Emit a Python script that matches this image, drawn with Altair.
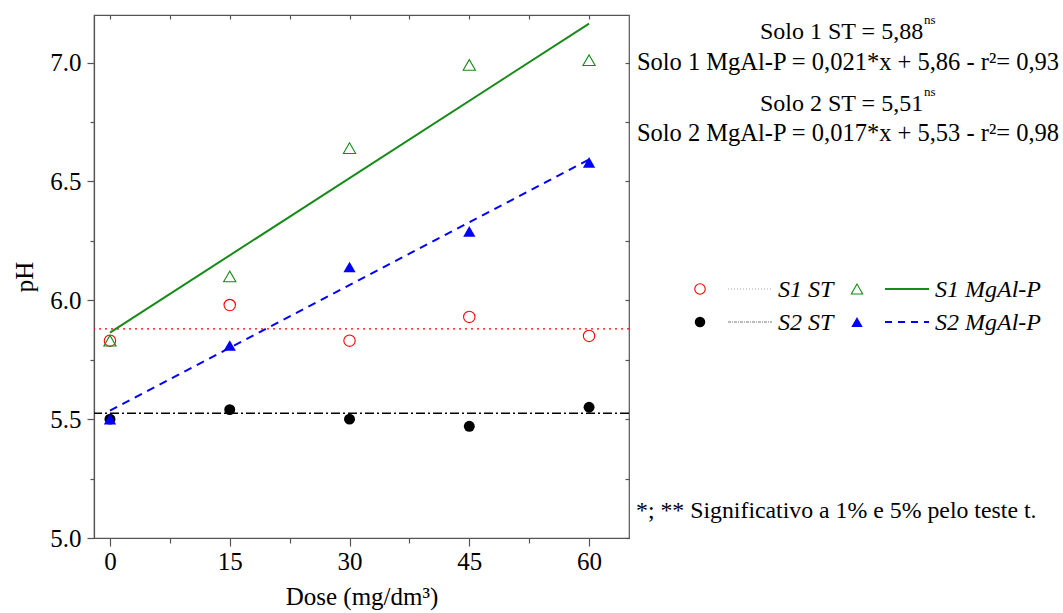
import altair as alt
import pandas as pd

# ---------------- data ----------------
dose = [0, 15, 30, 45, 60]
s1_st = [5.83, 5.98, 5.83, 5.93, 5.85]
s2_st = [5.50, 5.54, 5.50, 5.47, 5.55]
s1_mgal = [5.83, 6.10, 6.64, 6.99, 7.01]
s2_mgal = [5.50, 5.81, 6.14, 6.29, 6.58]

st_series = ["S1 ST", "S2 ST"]
st_means = [5.88, 5.525]

fit_dose = [0, 60]
s1_fit = [5.864, 7.164]
s2_fit = [5.536, 6.592]

x_ticks = [0, 7.5, 15, 22.5, 30, 37.5, 45, 52.5, 60]
y_ticks = [5.0, 5.25, 5.5, 5.75, 6.0, 6.25, 6.5, 6.75, 7.0]

eq_lines = [
    "Solo 1 ST = 5,88",
    "Solo 1 MgAl-P = 0,021*x + 5,86 - r²= 0,93",
    "Solo 2 ST = 5,51",
    "Solo 2 MgAl-P = 0,017*x + 5,53 - r²= 0,98",
]
footnote = "*; ** Significativo a 1% e 5% pelo teste t."

# ---------------- layout ----------------
FONT = "Liberation Serif"
L, T = 94, 15
W, H = 535, 523
TOTAL_W, TOTAL_H = 1063, 613

xsc = alt.Scale(domain=[-2, 65], nice=False, zero=False)
ysc = alt.Scale(domain=[5.0, 7.2], nice=False, zero=False)

x_axis = alt.Axis(
    values=x_ticks, orient="bottom",
    labelExpr="datum.value % 15 == 0 ? datum.label : ''",
    tickSize={"condition": {"test": "datum.value % 15 == 0", "value": 8}, "value": 5},
    grid=False, title="Dose (mg/dm³)", labelPadding=3, titlePadding=10,
)
y_axis = alt.Axis(
    values=y_ticks, orient="left",
    labelExpr="(datum.value * 100) % 50 == 0 ? format(datum.value, '.1f') : ''",
    tickSize={"condition": {"test": "(datum.value * 100) % 50 == 0", "value": 7}, "value": 4},
    grid=False, title="pH", labelPadding=6, titlePadding=12,
)
x_top = alt.Axis(values=x_ticks, orient="top", labels=False, title=None, grid=False,
                 domain=False, tickSize={"expr": "-4"})
y_right = alt.Axis(values=y_ticks, orient="right", labels=False, title=None, grid=False,
                   domain=False, tickSize={"expr": "-4"})

pts = pd.DataFrame({
    "dose": dose * 4,
    "ph": s1_st + s2_st + s1_mgal + s2_mgal,
    "serie": ["S1 ST"] * 5 + ["S2 ST"] * 5 + ["S1 MgAl-P"] * 5 + ["S2 MgAl-P"] * 5,
})
st_df = pd.DataFrame({"serie": st_series, "ph": st_means})
fit_df = pd.DataFrame({
    "dose": fit_dose * 2,
    "ph": s1_fit + s2_fit,
    "serie": ["S1 MgAl-P"] * 2 + ["S2 MgAl-P"] * 2,
})


def sel(df, name):
    return df[df["serie"] == name]


Xn = alt.X("dose:Q", scale=xsc, axis=None)
Yn = alt.Y("ph:Q", scale=ysc, axis=None)

RED = "#ff0000"
GREEN = "#178a17"
BLUE = "#0000ff"

# axis carriers (invisible marks)
axis_main = alt.Chart(pts).mark_point(opacity=0).encode(
    x=alt.X("dose:Q", scale=xsc, axis=x_axis), y=alt.Y("ph:Q", scale=ysc, axis=y_axis)
)
axis_frame = alt.Chart(pts).mark_point(opacity=0).encode(
    x=alt.X("dose:Q", scale=xsc, axis=x_top), y=alt.Y("ph:Q", scale=ysc, axis=y_right)
)

rule_s1 = alt.Chart(sel(st_df, "S1 ST")).mark_rule(
    color=RED, strokeDash=[2, 4], strokeWidth=1.3
).encode(y=Yn)
rule_s2 = alt.Chart(sel(st_df, "S2 ST")).mark_rule(
    color="black", strokeDash=[9, 3, 2, 3], strokeWidth=1.5
).encode(y=Yn)

line_s1 = alt.Chart(sel(fit_df, "S1 MgAl-P")).mark_line(
    color=GREEN, strokeWidth=2
).encode(x=Xn, y=Yn)
line_s2 = alt.Chart(sel(fit_df, "S2 MgAl-P")).mark_line(
    color=BLUE, strokeWidth=2, strokeDash=[8, 6]
).encode(x=Xn, y=Yn)

p_s1st = alt.Chart(sel(pts, "S1 ST")).mark_point(
    shape="circle", filled=False, color=RED, size=130, strokeWidth=1.1, opacity=1
).encode(x=Xn, y=Yn)
p_s2st = alt.Chart(sel(pts, "S2 ST")).mark_point(
    shape="circle", filled=True, color="black", size=120, opacity=1
).encode(x=Xn, y=Yn)
p_s1mg = alt.Chart(sel(pts, "S1 MgAl-P")).mark_point(
    shape="triangle-up", filled=False, color=GREEN, size=150, strokeWidth=1.1, opacity=1
).encode(x=Xn, y=Yn)
p_s2mg = alt.Chart(sel(pts, "S2 MgAl-P")).mark_point(
    shape="triangle-up", filled=True, color=BLUE, size=150, opacity=1
).encode(x=Xn, y=Yn)

one = pd.DataFrame({"k": [0]})


def txt(s, px, py, size=24, align="left", italic=False):
    return alt.Chart(one).mark_text(
        text=s, font=FONT, fontSize=size, align=align, baseline="alphabetic",
        fontStyle="italic" if italic else "normal", color="black"
    ).encode(x=alt.value(px - L), y=alt.value(py - T))


annos = [
    txt(eq_lines[0], 760, 39, 24),
    txt("ns", 924, 24, 13),
    txt(eq_lines[1], 848, 70, 24.5, align="center"),
    txt(eq_lines[2], 760, 111, 24),
    txt("ns", 924, 96, 13),
    txt(eq_lines[3], 848, 141, 24.5, align="center"),
    txt(footnote, 636, 518, 23.8),
]


# legend (built by hand: two rows, symbol + line sample + italic label)
def leg_pt(px, py, shape, color, filled, size):
    return alt.Chart(one).mark_point(
        shape=shape, filled=filled, color=color, size=size, strokeWidth=1.1, opacity=1
    ).encode(x=alt.value(px - L), y=alt.value(py - T))


def leg_rule(x1, x2, py, color, dash, width):
    kw = dict(color=color, strokeWidth=width)
    if dash:
        kw["strokeDash"] = dash
    return alt.Chart(one).mark_rule(**kw).encode(
        x=alt.value(x1 - L), x2=alt.value(x2 - L), y=alt.value(py - T)
    )


R1, R2 = 289, 322
legend = [
    leg_pt(700, R1, "circle", RED, False, 110),
    leg_rule(728, 772, R1, "#aaaaaa", [1, 2], 1),
    txt("S1 ST", 778, R1 + 8, 24, italic=True),
    leg_pt(857, R1, "triangle-up", GREEN, False, 130),
    leg_rule(885, 929, R1, GREEN, None, 2),
    txt("S1 MgAl-P", 935, R1 + 8, 24, italic=True),
    leg_pt(700, R2, "circle", "black", True, 110),
    leg_rule(728, 772, R2, "#777777", [3, 1, 1, 1], 1),
    txt("S2 ST", 778, R2 + 8, 24, italic=True),
    leg_pt(857, R2, "triangle-up", BLUE, True, 130),
    leg_rule(885, 929, R2, BLUE, [7, 6], 2),
    txt("S2 MgAl-P", 935, R2 + 8, 24, italic=True),
]

chart = alt.layer(
    axis_main, axis_frame,
    rule_s1, rule_s2, line_s1, line_s2, p_s1st, p_s2st, p_s1mg, p_s2mg,
    *annos, *legend
).resolve_axis(
    x="independent", y="independent"
).properties(
    width=W, height=H,
    autosize=alt.AutoSizeParams(type="none"),
    padding={"left": L, "top": T, "right": TOTAL_W - L - W, "bottom": TOTAL_H - T - H},
    background="white",
).configure_view(
    stroke="#555555", strokeWidth=1.2
).configure_axis(
    labelFont=FONT, labelFontSize=25, labelColor="black",
    titleFont=FONT, titleFontSize=25, titleFontWeight="normal", titleColor="black",
    domainColor="#555555", tickColor="#555555", domainWidth=1.2, tickWidth=1.2,
)

chart.save("out.html", embed_options={"renderer": "svg", "actions": False})
